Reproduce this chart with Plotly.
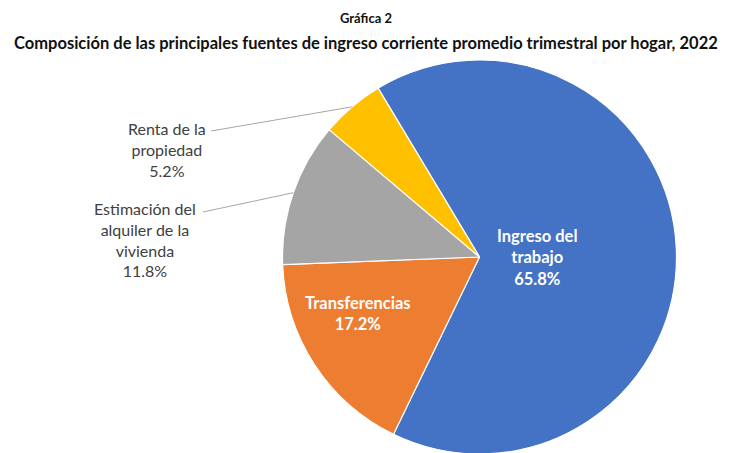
import math
import plotly.graph_objects as go

# Data
categories = ["Ingreso del trabajo", "Transferencias", "Estimación del alquiler de la vivienda", "Renta de la propiedad"]
values = [65.8, 17.2, 11.8, 5.2]
label_text = ["Ingreso del<br>trabajo", "Transferencias", "Estimación del<br>alquiler de la<br>vivienda", "Renta de la<br>propiedad"]
colors = ["#4472C4", "#ED7D31", "#A5A5A5", "#FFC000"]

W, H = 731, 453
OFF = 8  # page body margin
cx, cy, r = 479.5 - OFF, 257.0 - OFF, 197.0
rotation = -31.0
FONT = "Lato"

fig = go.Figure()
fig.add_trace(go.Pie(
    labels=categories,
    values=values,
    sort=False,
    direction="clockwise",
    rotation=rotation,
    marker=dict(colors=colors, line=dict(color="white", width=1.2)),
    textinfo="none",
    hoverinfo="skip",
    showlegend=False,
    domain=dict(x=[(cx - r) / W, (cx + r) / W], y=[(H - (cy + r)) / H, (H - (cy - r)) / H]),
))

total = sum(values)

def px2paper(x, y):
    # window pixel -> paper coords
    return (x - OFF) / W, 1 - (y - OFF) / H

def mid_angle(i):
    start = rotation + 360 * sum(values[:i]) / total
    return start + 180 * values[i] / total

def point(angle_deg, rad):
    a = math.radians(angle_deg)
    return cx + OFF + rad * math.sin(a), cy + OFF - rad * math.cos(a)

annotations = []
# Titles
gx, gy = px2paper(366, 18)
annotations.append(dict(x=gx, y=gy, xref="paper", yref="paper", text="<b>Gráfica 2</b>", showarrow=False,
                        font=dict(family=FONT, size=13, color="#111111"), xanchor="center", yanchor="middle"))
tx, ty = px2paper(366, 43)
annotations.append(dict(x=tx, y=ty, xref="paper", yref="paper",
                        text="<b>Composición de las principales fuentes de ingreso corriente promedio trimestral por hogar, 2022</b>",
                        showarrow=False, font=dict(family=FONT, size=16.5, color="#111111"), xanchor="center", yanchor="middle"))

# Inside labels (bold white)
inside_pos = {0: (537, 257), 1: (358, 313)}
for i, (x, y) in inside_pos.items():
    px, py = px2paper(x, y)
    annotations.append(dict(x=px, y=py, xref="paper", yref="paper",
                            text=f"<b>{label_text[i]}<br>{values[i]:.1f}%</b>", showarrow=False,
                            font=dict(family=FONT, size=16.5, color="white"), xanchor="center", yanchor="middle"))

# Outside labels with leader lines
outside = {3: dict(pos=(167, 149), line_start=(211, 131)), 2: dict(pos=(145, 240), line_start=(203, 212))}
shapes = []
for i, spec in outside.items():
    x, y = spec["pos"]
    px, py = px2paper(x, y)
    annotations.append(dict(x=px, y=py, xref="paper", yref="paper",
                            text=f"{label_text[i]}<br>{values[i]:.1f}%", showarrow=False,
                            font=dict(family=FONT, size=16, color="#404040"), xanchor="center", yanchor="middle"))
    ex, ey = point(mid_angle(i), r)
    sx, sy = spec["line_start"]
    x0, y0 = px2paper(sx, sy)
    x1, y1 = px2paper(ex, ey)
    shapes.append(dict(type="line", xref="paper", yref="paper", x0=x0, y0=y0, x1=x1, y1=y1,
                       line=dict(color="#A6A6A6", width=1)))

fig.update_layout(
    width=W, height=H,
    margin=dict(l=0, r=0, t=0, b=0),
    paper_bgcolor="white",
    plot_bgcolor="white",
    annotations=annotations,
    shapes=shapes,
)

fig.write_html("out.html")
